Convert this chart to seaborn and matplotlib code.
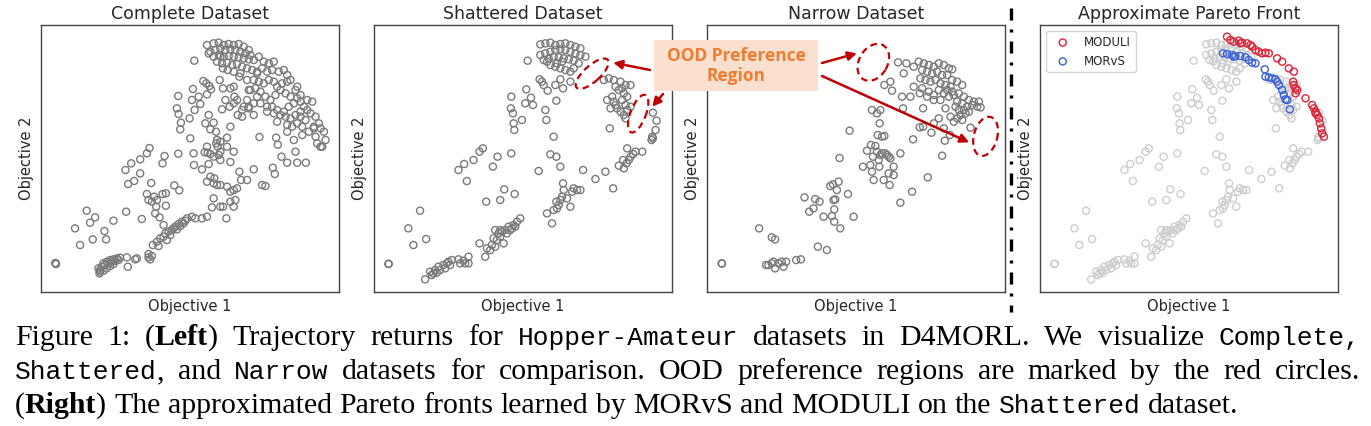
import matplotlib
matplotlib.use("Agg")
import numpy as np
import pandas as pd
import seaborn as sns
import matplotlib.pyplot as plt
from matplotlib.patches import Ellipse, Rectangle, ConnectionPatch
from matplotlib.lines import Line2D

# ---------------- data (Objective 1, Objective 2) ----------------
complete_points = [
    (43, 85), (44, 83), (42, 86),
    (174, 55), (176, 65), (181, 75), (186, 85), (191, 80), (196, 90), (201, 85), (206, 95), (211, 90),
    (216, 97), (221, 93), (226, 100), (231, 95), (236, 102), (176, 60), (171, 70), (186, 63), (196, 70),
    (206, 77), (216, 83), (256, 103), (259, 75), (281, 97), (286, 100), (321, 103), (331, 107), (326, 97),
    (101, 190), (116, 140), (136, 243), (146, 207), (154, 157), (161, 223), (189, 182), (194, 157),
    (216, 213), (254, 240), (301, 218),
    (321, 113), (334, 140), (346, 150), (351, 137), (356, 160), (366, 165), (371, 175), (376, 155),
    (381, 180), (386, 170), (391, 185), (396, 190), (401, 195), (406, 187), (411, 203), (416, 197),
    (421, 210), (426, 205), (431, 213), (366, 200), (354, 223), (341, 235), (344, 255), (331, 270),
    (321, 275), (316, 293), (338, 285), (346, 275), (363, 293), (373, 295), (373, 258), (398, 319), (413, 304),
    (252, 365), (269, 385), (260, 323), (278, 332), (296, 397), (296, 355), (316, 415), (324, 431),
    (329, 326), (363, 385), (369, 407), (410, 414), (456, 415), (457, 380), (481, 367), (489, 418),
    (498, 417), (506, 413), (501, 383), (516, 405), (531, 410), (536, 395), (566, 389), (576, 420),
    (593, 360), (598, 335), (616, 335), (636, 367), (661, 320), (671, 317), (693, 372), (699, 353),
    (719, 405), (736, 387), (766, 387), (792, 387), (653, 464), (708, 441), (703, 462),
    (496, 330), (516, 325), (526, 320), (536, 320), (506, 345), (518, 340), (566, 300), (576, 305),
    (586, 310), (556, 315), (566, 270), (581, 275), (576, 255), (516, 280), (511, 253), (536, 255),
    (544, 255), (554, 220), (461, 220), (481, 220), (496, 225), (436, 220), (451, 225),
    (410, 587), (406, 550), (411, 533), (418, 507), (416, 487), (444, 520), (451, 575), (454, 608),
    (459, 545), (471, 585), (476, 563), (485, 632), (494, 625), (503, 617), (496, 592), (508, 607),
    (491, 505), (501, 530), (516, 507), (506, 487), (523, 480), (526, 455), (524, 445), (528, 435),
    (536, 450), (556, 462), (556, 435), (566, 495), (541, 547), (551, 575), (534, 635), (544, 610),
    (566, 610), (576, 615), (578, 585), (586, 575), (593, 645), (601, 525), (616, 575), (606, 555),
    (496, 435), (536, 420), (446, 460),
    (496, 740), (516, 745), (531, 747), (546, 740), (561, 743), (576, 740), (591, 743), (606, 735),
    (621, 725), (506, 720), (521, 725), (536, 730), (551, 725), (566, 727), (581, 725), (596, 720),
    (611, 715), (626, 710), (516, 705), (531, 710), (546, 705), (561, 707), (576, 705), (591, 703),
    (606, 700), (621, 697), (636, 695), (651, 705), (666, 690), (681, 685), (526, 690), (541, 685),
    (556, 687), (571, 680), (586, 683), (601, 675), (616, 670), (631, 665), (646, 660), (661, 670),
    (676, 660), (691, 665), (696, 690), (711, 660), (726, 665), (736, 650), (544, 670), (558, 665),
    (576, 660), (596, 655), (616, 635), (636, 635), (651, 630), (666, 625), (681, 635), (696, 630),
    (706, 615), (721, 625), (736, 630), (746, 635), (536, 705), (458, 693), (501, 715),
    (626, 605), (641, 610), (656, 600), (671, 585), (686, 575), (701, 590), (716, 605), (731, 595),
    (746, 585), (761, 605), (766, 580), (776, 570), (786, 555), (796, 545), (811, 570), (776, 540),
    (756, 565), (741, 555), (726, 540), (716, 530), (731, 525), (746, 520), (761, 530), (776, 525),
    (791, 515), (806, 535), (821, 525), (831, 505), (816, 495), (836, 490), (846, 480), (851, 455),
    (836, 435), (826, 445), (841, 435), (821, 465), (801, 480), (781, 495), (766, 505), (751, 495),
    (736, 480), (756, 455), (781, 470), (761, 420), (736, 500), (706, 510), (696, 535), (676, 540),
    (656, 565), (636, 565), (621, 555), (646, 585), (676, 555), (691, 555), (706, 545), (646, 655),
    (621, 605), (621, 550), (601, 545), (576, 565), (564, 555), (588, 530), (636, 530), (766, 615),
    (776, 590), (796, 575), (816, 490),
]

shattered_points = [
    (42, 83), (43, 84),
    (152, 37), (167, 60), (172, 50), (182, 65), (187, 57), (192, 75), (197, 65), (207, 80), (212, 70),
    (217, 85), (222, 90), (227, 80), (232, 95), (252, 97), (257, 85), (267, 93), (272, 85), (282, 85),
    (282, 105), (177, 55),
    (102, 190), (117, 140), (137, 243), (155, 158),
    (315, 145), (332, 105), (337, 130), (347, 125), (352, 140), (357, 160), (362, 135), (367, 155),
    (372, 175), (377, 165), (382, 180), (387, 145), (392, 185), (397, 175), (402, 195), (407, 185),
    (412, 190), (417, 200), (422, 195), (427, 210), (437, 220), (362, 185), (377, 185),
    (252, 365), (269, 383), (277, 332), (297, 395), (315, 420), (325, 430), (335, 270), (355, 375),
    (369, 405), (377, 275), (389, 307), (410, 415), (420, 293),
    (492, 362), (527, 412), (545, 405), (557, 375), (537, 465), (625, 365), (662, 338), (692, 360),
    (715, 310), (705, 490), (517, 235), (532, 205), (537, 245), (547, 250), (552, 260), (545, 270),
    (557, 275), (562, 285), (565, 325), (567, 305), (577, 280), (587, 255), (592, 300), (597, 310),
    (607, 305), (617, 305), (732, 378), (747, 370), (755, 385), (762, 395), (757, 430), (767, 405),
    (775, 413), (782, 420), (802, 420), (745, 395),
    (410, 585), (409, 550), (415, 535), (417, 505), (419, 485), (442, 515), (452, 565), (455, 607),
    (469, 582), (475, 560), (495, 637), (502, 630), (507, 620), (519, 603), (512, 545), (515, 515),
    (545, 573), (542, 620), (557, 637), (565, 610), (587, 630), (459, 693),
    (497, 742), (512, 745), (527, 747), (542, 740), (557, 743), (572, 745), (587, 740), (602, 735),
    (617, 730), (497, 710), (512, 715), (527, 720), (542, 725), (557, 727), (572, 725), (587, 720),
    (602, 715), (617, 710), (632, 705), (507, 695), (522, 700), (537, 705), (552, 703), (567, 700),
    (582, 697), (597, 693), (612, 685), (527, 680), (542, 675), (557, 670), (572, 665), (587, 660),
    (517, 690), (547, 685), (562, 690), (597, 670),
    (687, 635), (702, 640), (717, 635), (722, 615), (737, 630), (752, 620), (767, 620), (732, 605),
    (742, 610), (747, 595), (712, 585), (717, 570), (722, 560), (727, 550), (737, 540), (747, 530),
    (752, 520), (757, 545), (742, 575), (752, 560), (757, 585), (767, 555), (707, 550), (697, 575),
    (834, 537), (845, 513), (842, 485), (832, 465), (830, 455), (834, 460),
]

narrow_points = [
    (43, 85), (44, 84),
    (176, 80), (183, 80), (193, 85), (198, 90), (203, 70), (213, 85), (223, 90), (228, 75), (236, 90),
    (266, 95), (280, 97), (155, 190), (193, 163), (203, 157), (331, 135), (358, 125),
    (291, 283), (305, 240), (318, 250), (323, 278), (336, 270), (348, 225), (368, 317), (376, 322),
    (393, 330), (388, 305), (383, 277), (378, 275), (380, 247), (373, 227), (380, 210), (398, 190),
    (421, 293), (438, 225), (396, 401), (426, 483),
    (466, 375), (478, 423), (490, 440), (488, 380), (493, 360), (498, 335), (496, 405), (503, 437),
    (508, 420), (513, 395), (515, 375), (518, 410), (516, 505), (510, 470), (523, 465), (530, 467),
    (523, 415), (533, 415), (538, 410), (543, 405), (548, 400), (528, 335), (543, 355), (546, 320),
    (558, 375), (558, 350), (493, 545), (518, 545), (508, 535), (578, 415), (578, 267), (613, 300),
    (660, 343), (703, 408), (616, 457), (636, 493), (671, 477), (693, 520), (711, 453), (726, 470),
    (586, 550),
    (530, 620), (548, 630), (553, 603), (571, 688), (583, 585), (588, 655), (596, 685),
    (618, 675), (633, 690), (648, 685), (663, 680), (678, 675), (693, 685), (708, 680), (723, 670),
    (733, 667), (643, 665), (658, 660), (673, 655), (688, 660), (703, 650), (718, 650), (733, 635),
    (748, 630), (763, 620), (638, 640), (653, 635), (668, 630), (683, 635), (698, 625), (713, 620),
    (728, 615), (618, 615), (643, 610), (663, 600), (678, 590), (693, 605), (708, 595), (723, 585),
    (738, 590), (753, 595), (768, 585), (783, 575), (798, 570), (813, 570), (818, 553), (748, 570),
    (763, 565), (778, 555), (793, 560), (808, 555), (743, 555), (753, 545), (768, 545), (758, 530),
    (773, 535), (783, 540), (748, 520), (763, 515), (728, 525), (738, 510), (713, 550), (698, 575),
    (678, 575), (658, 585), (646, 550), (636, 595), (608, 585), (788, 492), (708, 490), (678, 505),
    (646, 495), (718, 605), (733, 600),
]

moduli_points = [
    (559, 765), (569, 755), (579, 750), (594, 753), (599, 745), (604, 747), (619, 745), (629, 740),
    (634, 735), (644, 725), (654, 720), (664, 715), (674, 717), (684, 715), (709, 700), (724, 690),
    (744, 670), (759, 660), (757, 630), (759, 620), (764, 610), (769, 605), (764, 595), (794, 580),
    (814, 560), (819, 550), (824, 540), (824, 535), (829, 530), (834, 520), (837, 505), (841, 490),
    (844, 475), (849, 465),
]

morvs_points = [
    (547, 715), (559, 713), (574, 710), (579, 705), (584, 707), (599, 707), (614, 703), (624, 695),
    (634, 687), (644, 685), (672, 667), (674, 645), (684, 643), (694, 640), (704, 637), (709, 630),
    (714, 620), (724, 605), (729, 590), (734, 577), (739, 575), (747, 547),
]

panel_titles = ["Complete Dataset", "Shattered Dataset", "Narrow Dataset", "Approximate Pareto Front"]
x_label = "Objective 1"
y_label = "Objective 2"
legend_labels = ["MODULI", "MORvS"]
box_text = "OOD Preference\nRegion"

caption_lines = [
    [[("Figure", "r")], [("1:", "r")], [("(", "r"), ("Left", "b"), (")", "r")], [("Trajectory", "r")],
     [("returns", "r")], [("for", "r")], [("Hopper-Amateur", "t")], [("datasets", "r")], [("in", "r")],
     [("D4MORL.", "r")], [("We", "r")], [("visualize", "r")], [("Complete,", "t")]],
    [[("Shattered", "t"), (",", "r")], [("and", "r")], [("Narrow", "t")], [("datasets", "r")], [("for", "r")],
     [("comparison.", "r")], [("OOD", "r")], [("preference", "r")], [("regions", "r")], [("are", "r")],
     [("marked", "r")], [("by", "r")], [("the", "r")], [("red", "r")], [("circles.", "r")]],
    [[("(", "r"), ("Right", "b"), (")", "r")], [("The", "r")], [("approximated", "r")], [("Pareto", "r")],
     [("fronts", "r")], [("learned", "r")], [("by", "r")], [("MORvS", "r")], [("and", "r")], [("MODULI", "r")],
     [("on", "r")], [("the", "r")], [("Shattered", "t")], [("dataset.", "r")]],
]
caption_justify = [True, True, False]


def to_df(points):
    return pd.DataFrame(points, columns=["obj1", "obj2"])


# ---------------- figure ----------------
W, H = 1371, 426
sns.set_style("white")
plt.rcParams["font.family"] = ["DejaVu Sans"]
fig = plt.figure(figsize=(W / 100, H / 100), dpi=100)

DARK_GRAY = "#7a7a7a"
LIGHT_GRAY = "#cdcdcd"
RED = "#dc2438"
BLUE = "#3a62d8"
ARROW_RED = "#c00000"

lefts = [41.3, 374.3, 707.3, 1040.3]
axes = []
for lp in lefts:
    ax = fig.add_axes([lp / W, (H - 291.7) / H, 297.3 / W, 266.7 / H])
    axes.append(ax)

mk = dict(marker="o", s=26, facecolors="none", linewidth=1.0)

sns.scatterplot(data=to_df(complete_points), x="obj1", y="obj2", ax=axes[0], edgecolor=DARK_GRAY, **mk)
sns.scatterplot(data=to_df(shattered_points), x="obj1", y="obj2", ax=axes[1], edgecolor=DARK_GRAY, **mk)
sns.scatterplot(data=to_df(narrow_points), x="obj1", y="obj2", ax=axes[2], edgecolor=DARK_GRAY, **mk)
sns.scatterplot(data=to_df(shattered_points), x="obj1", y="obj2", ax=axes[3], edgecolor=LIGHT_GRAY, **mk)
sns.scatterplot(data=to_df(moduli_points), x="obj1", y="obj2", ax=axes[3], edgecolor=RED,
                label=legend_labels[0], zorder=3, **mk)
sns.scatterplot(data=to_df(morvs_points), x="obj1", y="obj2", ax=axes[3], edgecolor=BLUE,
                label=legend_labels[1], zorder=3, **mk)

for ax, title in zip(axes, panel_titles):
    ax.set_xlim(0, 890)
    ax.set_ylim(0, 800)
    ax.set_xticks([])
    ax.set_yticks([])
    ax.set_title(title, fontsize=12.5, pad=4)
    ax.set_xlabel(x_label, fontsize=10.5, labelpad=5)
    ax.set_ylabel(y_label, fontsize=10.5, labelpad=5)
    for s in ax.spines.values():
        s.set_color("#444444")
        s.set_linewidth(1.0)

leg = axes[3].legend(loc="upper left", fontsize=8.5, borderaxespad=0.5, handletextpad=0.8,
                     frameon=True, scatterpoints=1)
leg.get_frame().set_edgecolor("#cccccc")

# OOD ellipses
ell_kw = dict(fill=False, edgecolor=ARROW_RED, lw=1.6, linestyle=(0, (3, 2)), zorder=5)
axes[1].add_patch(Ellipse((652, 654), 125, 48, angle=42, **ell_kw))
axes[1].add_patch(Ellipse((790, 534), 120, 46, angle=69, **ell_kw))
axes[2].add_patch(Ellipse((497, 688), 118, 85, angle=60, **ell_kw))
axes[2].add_patch(Ellipse((833, 466), 120, 70, angle=75, **ell_kw))

# annotation box
fig.add_artist(Rectangle((654 / W, 1 - 91 / H), 164 / W, 51 / H, transform=fig.transFigure,
                         facecolor="#fbe0d0", edgecolor="none", zorder=3))
fig.text(736 / W, 1 - 66 / H, box_text, ha="center", va="center", fontsize=12.5, fontweight="bold",
         color="#ed7d31", family=["Open Sans", "DejaVu Sans"], linespacing=1.12, zorder=4)

arrows = [
    ((650, 70), axes[1], (715, 687)),
    ((663, 94), axes[1], (832, 555)),
    ((822, 63), axes[2], (448, 715)),
    ((822, 76), axes[2], (784, 448)),
]
for (sx, sy), axb, tip in arrows:
    con = ConnectionPatch(xyA=(sx / W, 1 - sy / H), coordsA="figure fraction", xyB=tip, coordsB="data",
                          axesB=axb, arrowstyle="-|>", mutation_scale=13, color=ARROW_RED, lw=1.8,
                          shrinkA=0, shrinkB=0, zorder=6)
    fig.add_artist(con)

# dash-dot separator
fig.add_artist(Line2D([1011 / W, 1011 / W], [1 - 8 / H, 1 - 312 / H], transform=fig.transFigure,
                      color="black", lw=2.4, linestyle=(0, (3.6, 2.7, 0.9, 2.7))))

# ---------------- caption ----------------
SERIF = 21.5
styles = {
    "r": dict(family="Liberation Serif", fontsize=SERIF),
    "b": dict(family="Liberation Serif", fontsize=SERIF, fontweight="bold"),
    "t": dict(family="Liberation Mono", fontsize=SERIF * 0.88),
}
renderer = fig.canvas.get_renderer()


def seg_width(text, style):
    t = fig.text(0, 0, text, **styles[style])
    w = t.get_window_extent(renderer).width
    t.remove()
    return w


space_w = seg_width("a a", "r") - seg_width("aa", "r")
x0, x1 = 15, 1360
baselines = [345, 379, 413]
for words, justify, base in zip(caption_lines, caption_justify, baselines):
    widths = [[seg_width(txt, st) for txt, st in w] for w in words]
    total = sum(sum(ws) for ws in widths)
    gap = (x1 - x0 - total) / (len(words) - 1) if justify else space_w
    x = x0
    for w, ws in zip(words, widths):
        for (txt, st), sw in zip(w, ws):
            fig.text(x / W, 1 - base / H, txt, ha="left", va="baseline", color="black", **styles[st])
            x += sw
        x += gap

fig.savefig("out.png", dpi=100)
